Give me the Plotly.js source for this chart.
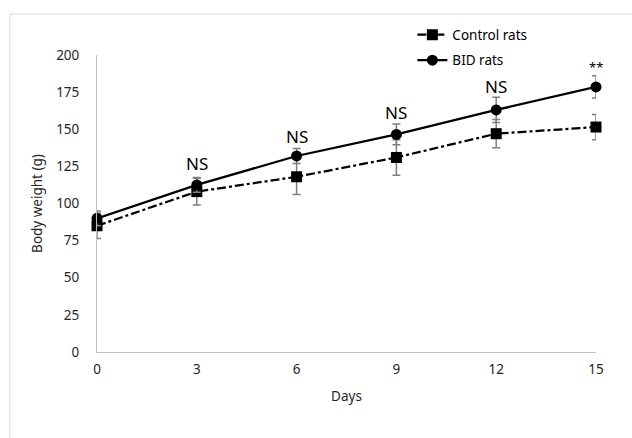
<!DOCTYPE html>
<html>
<head>
<meta charset="utf-8">
<script src="https://cdn.plot.ly/plotly-3.0.1.min.js"></script>
<style>
  html, body { margin: 0; padding: 0; background: #fff; }
  #chart { width: 632px; height: 438px; }
</style>
</head>
<body>
<div id="chart"></div>
<script>
const days = [0, 3, 6, 9, 12, 15];
const controlWeight = [85, 108, 118, 131, 147, 151.5];
const controlErr = [8.5, 9, 12, 12, 9.5, 8.5];
const bidWeight = [90, 112.5, 132, 146.5, 163, 178.5];
const bidErr = [5, 5, 5, 7, 8.5, 7.5];
const sigDays = [3, 6, 9, 12, 15];
const sigLabels = ["NS", "NS", "NS", "NS", "**"];
const sigLabelY = [127, 145, 161, 179, 192];

const font = "'Noto Sans', 'Open Sans', sans-serif";

const traces = [
  {
    x: days, y: controlWeight, name: "Control rats", type: "scatter", mode: "lines+markers",
    legendgroup: "c",
    line: { color: "#000", width: 2.25, dash: "dashdot" },
    marker: { symbol: "square", size: 11, color: "#000" },
    error_y: { type: "data", array: controlErr, visible: true, color: "#7f7f7f", thickness: 1.5, width: 4 },
    cliponaxis: false
  },
  {
    x: days, y: bidWeight, name: "BID rats", type: "scatter", mode: "lines+markers",
    legendgroup: "b",
    line: { color: "#000", width: 2.25 },
    marker: { symbol: "circle", size: 11, color: "#000" },
    error_y: { type: "data", array: bidErr, visible: true, color: "#7f7f7f", thickness: 1.5, width: 4 },
    cliponaxis: false
  }
];

const annotations = sigDays.map((d, i) => ({
  x: d, y: sigLabelY[i], xref: "x", yref: "y", text: sigLabels[i], showarrow: false,
  font: { family: font, size: sigLabels[i] === "**" ? 13 : 17, color: "#000" }
}));

const layout = {
  width: 632, height: 438,
  margin: { l: 97, r: 36, t: 55, b: 86 },
  paper_bgcolor: "#fff", plot_bgcolor: "#fff",
  font: { family: font, size: 13.5, color: "#262626" },
  showlegend: true,
  legend: {
    x: 0.632, y: 1.12, xanchor: "left", yanchor: "top",
    font: { family: font, size: 13.5, color: "#000" },
    traceorder: "grouped", tracegroupgap: 5,
    bgcolor: "rgba(0,0,0,0)"
  },
  xaxis: {
    range: [0, 15], tickvals: days, ticktext: days.map(String),
    showgrid: false, zeroline: false, showline: true, linecolor: "#bfbfbf", linewidth: 1,
    ticks: "", ticklabelstandoff: 5,
    tickfont: { family: font, size: 13.5, color: "#262626" },
    title: { text: "Days", font: { family: font, size: 13.5, color: "#262626" }, standoff: 14 }
  },
  yaxis: {
    range: [0, 200], tick0: 0, dtick: 25,
    showgrid: false, zeroline: false, showline: true, linecolor: "#bfbfbf", linewidth: 1,
    ticks: "", ticklabelstandoff: 14,
    tickfont: { family: font, size: 13.5, color: "#262626" },
    title: { text: "Body weight (g)", font: { family: font, size: 13.5, color: "#262626" }, standoff: 10 }
  },
  annotations: annotations,
  shapes: [{
    type: "rect", xref: "paper", yref: "paper",
    x0: (10 - 97) / 499, x1: 1.2, y0: -0.4, y1: (352 - 14) / 297,
    line: { color: "#d9d9d9", width: 1 }, fillcolor: "rgba(0,0,0,0)", layer: "below"
  }]
};

Plotly.newPlot("chart", traces, layout, { displayModeBar: false, staticPlot: true });
</script>
</body>
</html>
